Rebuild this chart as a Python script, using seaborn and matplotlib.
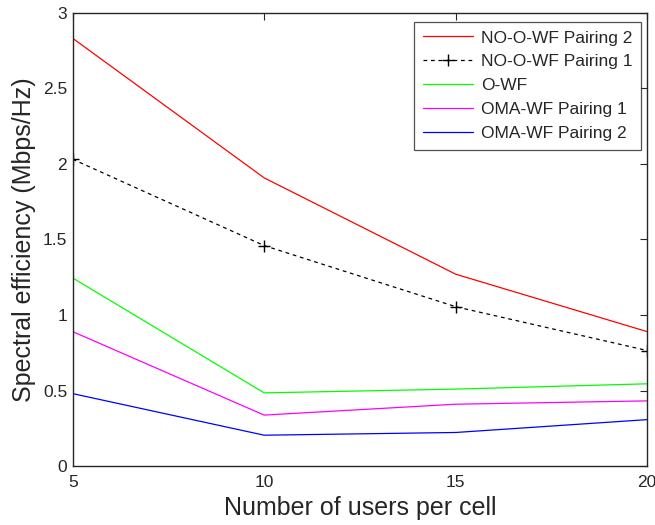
import pandas as pd
import matplotlib
matplotlib.use('Agg')
import matplotlib.pyplot as plt
import seaborn as sns

# users per cell
usuarios = [5, 10, 15, 20]

# spectral efficiency (Mbps/Hz) per scheme
no_o_wf_p2 = [2.83, 1.907, 1.27, 0.89]
no_o_wf_p1 = [2.03, 1.459, 1.055, 0.765]
o_wf = [1.245, 0.485, 0.51, 0.545]
oma_wf_p1 = [0.89, 0.338, 0.41, 0.432]
oma_wf_p2 = [0.48, 0.205, 0.223, 0.308]

series = {
  'NO-O-WF Pairing 2': no_o_wf_p2,
  'NO-O-WF Pairing 1': no_o_wf_p1,
  'O-WF': o_wf,
  'OMA-WF Pairing 1': oma_wf_p1,
  'OMA-WF Pairing 2': oma_wf_p2,
}
colores = ['#ff0000', '#000000', '#00ff00', '#ff00ff', '#0000ff']

sns.set_style('white')
plt.rcParams['font.family'] = ['Liberation Sans', 'DejaVu Sans']

fig, ax = plt.subplots(figsize=(6.55, 5.25), dpi=100)
fig.subplots_adjust(left=0.111, right=0.988, bottom=0.112, top=0.976)

for (nombre, valores), color in zip(series.items(), colores):
  df = pd.DataFrame({'x': usuarios, 'y': valores})
  if nombre == 'NO-O-WF Pairing 1':
    # linea discontinua con marcas '+'
    sns.lineplot(data=df, x='x', y='y', ax=ax, color=color, linewidth=0.9,
                 linestyle=(0, (3, 3)), marker='+', markersize=9,
                 markeredgewidth=1.0, markeredgecolor=color, label=nombre)
  else:
    sns.lineplot(data=df, x='x', y='y', ax=ax, color=color, linewidth=0.9,
                 label=nombre)

ax.set_xlim(5, 20)
ax.set_ylim(0, 3)
ax.set_xticks([5, 10, 15, 20])
ax.set_yticks([0, 0.5, 1, 1.5, 2, 2.5, 3])
ax.set_yticklabels(['0', '0.5', '1', '1.5', '2', '2.5', '3'])
ax.tick_params(direction='in', length=5, width=0.8, top=True, right=True,
               labelsize=12.5, colors='#262626', pad=4)
ax.tick_params(axis='x', pad=6)
for lado in ax.spines.values():
  lado.set_color('#262626')
  lado.set_linewidth(1.0)

ax.set_xlabel('Number of users per cell', fontsize=18, labelpad=5)
ax.set_ylabel('Spectral efficiency (Mbps/Hz)', fontsize=18, labelpad=5)

leg = ax.legend(loc='upper right', bbox_to_anchor=(0.99, 0.98), fontsize=12.5,
                frameon=True, fancybox=False, edgecolor='#262626',
                handlelength=2.9, borderpad=0.5, labelspacing=0.5,
                handletextpad=0.45, borderaxespad=0.0)
leg.get_frame().set_linewidth(0.9)

fig.savefig('out.png', dpi=100)
